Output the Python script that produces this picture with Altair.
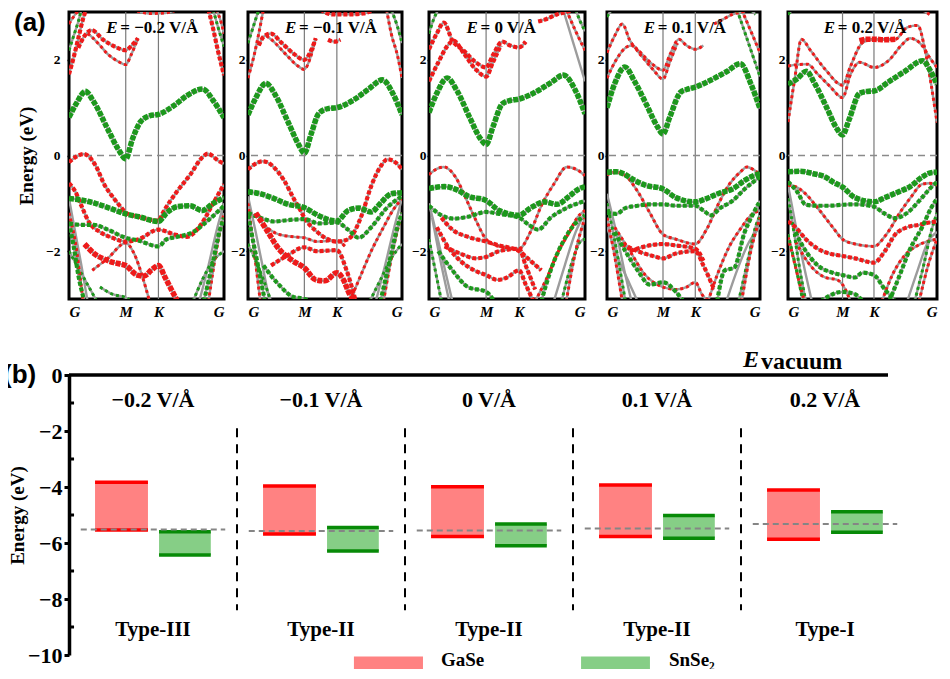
import altair as alt
import pandas as pd

# ---------------- data ----------------
PATH_TICKS = [0.0, 0.366, 0.577, 1.0]          # G, M, K, G along the k-path
PATH_LABELS = ["G", "M", "K", "G"]
FIELDS = ["−0.2", "−0.1", "0", "0.1", "0.2"]

# band: (layer projection, weight, k positions, energies / eV)
BANDS_M02 = [
    ("SnSe2", 3, [0, 0.05, 0.105, 0.16, 0.25, 0.32, 0.366, 0.41, 0.46, 0.52, 0.577, 0.68, 0.76, 0.863, 0.93, 1],
     [0.80, 1.10, 1.34, 1.12, 0.55, 0.12, -0.07, 0.35, 0.70, 0.83, 0.86, 1.05, 1.25, 1.39, 1.15, 0.79]),
    ("GaSe", 2, [0.06, 0.10, 0.147, 0.22, 0.30, 0.366, 0.41, 0.445], [2.25, 2.50, 2.62, 2.42, 2.27, 2.20, 2.32, 2.45]),
    ("GaSe", 1, [0.12, 0.147, 0.20, 0.25, 0.32, 0.366, 0.40, 0.445], [2.55, 2.48, 2.30, 2.12, 1.96, 1.90, 2.10, 2.45]),
    ("GaSe", 2, [0, 0.03, 0.06, 0.09, 0.11], [1.70, 2.05, 2.45, 2.85, 3.05]),
    ("SnSe2", 1, [0, 0.03, 0.06, 0.08], [2.20, 2.50, 2.80, 3.05]),
    ("GaSe", 1, [0, 0.04, 0.08], [2.75, 2.95, 3.10]),
    ("GaSe", 1, [0.44, 0.52, 0.62, 0.70], [3.02, 2.97, 2.98, 3.05]),
    ("GaSe", 2, [0.90, 0.93, 0.96, 1], [3.05, 2.65, 2.20, 1.68]),
    ("SnSe2", 1, [0.93, 0.96, 1], [3.05, 2.70, 2.28]),
    ("GaSe", 1, [0.95, 0.98, 1], [3.05, 2.80, 2.55]),
    ("GaSe", 2, [0, 0.05, 0.095, 0.17, 0.23, 0.29, 0.34, 0.366, 0.45, 0.577, 0.61, 0.695, 0.78, 0.863, 0.895, 0.968, 1],
     [-0.14, -0.02, 0.03, -0.20, -0.62, -0.90, -1.10, -1.20, -1.28, -1.36, -1.17, -0.76, -0.41, -0.03, 0.04, -0.12, -0.17]),
    ("GaSe", 2, [0, 0.04, 0.08, 0.13, 0.20, 0.28, 0.366, 0.45, 0.577, 0.68, 0.76, 0.85, 0.93, 1],
     [-0.58, -0.75, -1.05, -1.40, -1.60, -1.72, -1.80, -1.75, -1.55, -1.65, -1.70, -1.45, -1.00, -0.60]),
    ("GaSe", 3, [0.10, 0.17, 0.23, 0.29, 0.366, 0.44, 0.485, 0.53, 0.577, 0.62, 0.66, 0.70],
     [-1.85, -2.07, -2.17, -2.24, -2.30, -2.50, -2.52, -2.40, -2.30, -2.55, -2.80, -3.05]),
    ("GaSe", 1, [0.15, 0.25, 0.366, 0.42, 0.48, 0.52], [-2.40, -2.15, -1.83, -2.05, -2.60, -3.05]),
    ("SnSe2", 3, [0, 0.08, 0.17, 0.26, 0.366, 0.45, 0.577, 0.63, 0.70, 0.78, 0.86, 0.93, 1],
     [-0.90, -0.93, -1.00, -1.10, -1.22, -1.28, -1.38, -1.20, -1.07, -1.05, -1.15, -1.00, -0.88]),
    ("SnSe2", 2, [0, 0.08, 0.16, 0.25, 0.366, 0.45, 0.577, 0.63, 0.70, 0.80, 0.90, 1],
     [-1.42, -1.45, -1.45, -1.55, -1.72, -1.78, -1.90, -1.75, -1.70, -1.60, -1.35, -1.05]),
    ("SnSe2", 2, [0, 0.03, 0.06, 0.10], [-1.40, -1.90, -2.50, -3.05]),
    ("mix", 0, [0, 0.04, 0.08, 0.12], [-0.90, -1.60, -2.30, -3.05]),
    ("SnSe2", 1, [0, 0.06, 0.12, 0.18], [-2.00, -2.35, -2.70, -3.05]),
    ("GaSe", 1, [0, 0.05, 0.09], [-1.20, -2.00, -3.05]),
    ("SnSe2", 1, [0.20, 0.28, 0.366, 0.40], [-2.75, -2.90, -2.97, -3.05]),
    ("SnSe2", 2, [0.87, 0.93, 0.97, 1], [-3.05, -2.20, -1.60, -1.30]),
    ("mix", 0, [0.84, 0.90, 0.95, 1], [-3.05, -2.30, -1.60, -1.00]),
    ("SnSe2", 1, [0.80, 0.86, 0.93, 1], [-3.05, -2.60, -2.20, -2.00]),
    ("GaSe", 1, [0.90, 0.95, 1], [-3.05, -2.00, -1.20]),
]

BANDS_M01 = [
    ("SnSe2", 3, [0, 0.05, 0.116, 0.18, 0.26, 0.33, 0.366, 0.41, 0.46, 0.52, 0.577, 0.68, 0.78, 0.874, 0.94, 1],
     [0.85, 1.20, 1.51, 1.25, 0.70, 0.22, 0.05, 0.45, 0.88, 0.98, 1.00, 1.15, 1.38, 1.58, 1.30, 0.85]),
    ("GaSe", 2, [0.07, 0.10, 0.147, 0.22, 0.30, 0.366, 0.41, 0.44], [2.30, 2.48, 2.55, 2.35, 2.12, 2.00, 2.20, 2.45]),
    ("GaSe", 1, [0.12, 0.16, 0.25, 0.32, 0.366, 0.40, 0.44], [2.50, 2.40, 2.10, 1.88, 1.80, 2.00, 2.45]),
    ("GaSe", 1, [0, 0.04, 0.07, 0.10], [1.62, 2.10, 2.55, 3.05]),
    ("SnSe2", 1, [0, 0.04, 0.07], [2.35, 2.75, 3.05]),
    ("GaSe", 2, [0.47, 0.55, 0.65, 0.75, 0.82], [3.05, 2.95, 2.95, 2.97, 3.05]),
    ("GaSe", 2, [0.52, 0.56, 0.60], [2.42, 2.38, 2.42]),
    ("GaSe", 1, [0.90, 0.93, 0.97, 1], [3.05, 2.55, 2.10, 1.62]),
    ("SnSe2", 1, [0.93, 0.97, 1], [3.05, 2.70, 2.35]),
    ("GaSe", 2, [0, 0.05, 0.095, 0.23, 0.30, 0.336, 0.366, 0.45, 0.577, 0.65, 0.737, 0.80, 0.863, 0.905, 0.96, 1],
     [-0.29, -0.17, -0.12, -0.50, -0.92, -1.12, -1.30, -1.60, -1.80, -1.75, -1.26, -0.64, -0.22, -0.08, -0.15, -0.29]),
    ("SnSe2", 3, [0, 0.08, 0.17, 0.26, 0.366, 0.46, 0.577, 0.65, 0.72, 0.80, 0.86, 0.93, 1],
     [-0.76, -0.80, -0.90, -1.02, -1.09, -1.26, -1.37, -1.15, -1.10, -1.18, -1.00, -0.80, -0.78]),
    ("SnSe2", 2, [0, 0.08, 0.17, 0.26, 0.366, 0.46, 0.577, 0.65, 0.72, 0.80, 0.90, 1],
     [-1.20, -1.30, -1.38, -1.35, -1.33, -1.42, -1.40, -1.55, -1.72, -1.50, -1.10, -0.85]),
    ("GaSe", 1, [0.10, 0.20, 0.30, 0.366, 0.45, 0.577, 0.63], [-1.45, -1.65, -1.70, -1.72, -1.80, -1.78, -1.90]),
    ("GaSe", 2, [0.15, 0.25, 0.366, 0.45, 0.577, 0.64, 0.70], [-2.30, -2.10, -1.92, -2.00, -1.98, -2.40, -3.05]),
    ("GaSe", 3, [0.05, 0.12, 0.20, 0.29, 0.366, 0.44, 0.50, 0.577, 0.62, 0.66, 0.70],
     [-1.20, -1.55, -1.95, -2.20, -2.35, -2.60, -2.62, -2.45, -2.60, -2.90, -3.05]),
    ("GaSe", 1, [0.66, 0.72, 0.80, 0.88, 0.94, 1], [-3.05, -2.60, -2.00, -1.50, -1.15, -0.90]),
    ("SnSe2", 2, [0.10, 0.20, 0.29, 0.366, 0.40], [-2.30, -2.70, -2.95, -3.00, -3.05]),
    ("SnSe2", 2, [0, 0.04, 0.08, 0.11], [-1.25, -1.90, -2.55, -3.05]),
    ("mix", 0, [0, 0.05, 0.10, 0.14], [-0.85, -1.60, -2.40, -3.05]),
    ("SnSe2", 1, [0, 0.05, 0.10, 0.15], [-1.85, -2.20, -2.60, -3.05]),
    ("GaSe", 1, [0, 0.04, 0.08], [-1.00, -2.00, -3.05]),
    ("SnSe2", 2, [0.86, 0.92, 0.97, 1], [-3.05, -2.20, -1.50, -1.20]),
    ("mix", 0, [0.83, 0.89, 0.95, 1], [-3.05, -2.30, -1.50, -0.90]),
    ("SnSe2", 1, [0.79, 0.86, 0.93, 1], [-3.05, -2.60, -2.15, -1.85]),
    ("GaSe", 1, [0.88, 0.94, 1], [-3.05, -2.00, -1.20]),
]

BANDS_0 = [
    ("SnSe2", 3, [0, 0.05, 0.116, 0.18, 0.26, 0.33, 0.366, 0.41, 0.47, 0.52, 0.577, 0.68, 0.78, 0.863, 0.94, 1],
     [0.90, 1.30, 1.62, 1.35, 0.80, 0.35, 0.23, 0.60, 1.08, 1.15, 1.18, 1.32, 1.52, 1.68, 1.35, 0.87]),
    ("GaSe", 2, [0, 0.05, 0.095, 0.15, 0.22, 0.30, 0.366, 0.41, 0.47, 0.52, 0.577, 0.62],
     [2.22, 2.55, 2.78, 2.40, 2.20, 1.95, 1.84, 2.10, 2.38, 2.30, 2.26, 2.38]),
    ("GaSe", 2, [0, 0.06, 0.12, 0.158, 0.22, 0.30, 0.366, 0.41, 0.46], [1.55, 1.95, 2.30, 2.40, 2.15, 1.80, 1.65, 1.95, 2.30]),
    ("SnSe2", 1, [0, 0.03, 0.06], [2.55, 2.85, 3.05]),
    ("GaSe", 2, [0.70, 0.75, 0.82, 0.88, 0.93], [2.80, 2.85, 2.95, 3.00, 3.05]),
    ("GaSe", 1, [0.88, 0.94, 1], [3.05, 2.60, 2.20]),
    ("mix", 0, [0.86, 0.93, 1], [3.05, 2.30, 1.55]),
    ("SnSe2", 1, [0.94, 0.97, 1], [3.05, 2.80, 2.60]),
    ("GaSe", 1, [0, 0.05, 0.095, 0.17, 0.23, 0.30, 0.366, 0.45, 0.577, 0.65, 0.72, 0.80, 0.884, 0.95, 1],
     [-0.40, -0.28, -0.24, -0.45, -0.85, -1.35, -1.75, -1.90, -1.95, -1.60, -1.05, -0.60, -0.24, -0.30, -0.42]),
    ("SnSe2", 3, [0, 0.10, 0.18, 0.25, 0.366, 0.45, 0.577, 0.65, 0.74, 0.82, 0.90, 0.96, 1],
     [-0.69, -0.65, -0.72, -0.85, -0.94, -1.15, -1.25, -1.10, -0.97, -1.02, -0.85, -0.70, -0.65]),
    ("SnSe2", 2, [0, 0.08, 0.16, 0.25, 0.366, 0.45, 0.577, 0.64, 0.70, 0.78, 0.88, 1],
     [-1.05, -1.25, -1.32, -1.28, -1.18, -1.22, -1.30, -1.45, -1.55, -1.30, -1.10, -0.95]),
    ("GaSe", 2, [0.08, 0.15, 0.25, 0.366, 0.45, 0.577, 0.65, 0.72], [-1.30, -1.55, -1.70, -1.80, -1.88, -2.00, -2.20, -2.40]),
    ("GaSe", 2, [0.10, 0.20, 0.30, 0.366, 0.45, 0.577, 0.62, 0.68], [-1.90, -2.05, -2.15, -2.12, -2.00, -1.95, -2.30, -2.80]),
    ("GaSe", 2, [0.05, 0.12, 0.20, 0.29, 0.366, 0.44, 0.50, 0.577, 0.62, 0.67],
     [-1.50, -1.90, -2.20, -2.40, -2.50, -2.60, -2.55, -2.40, -2.70, -3.05]),
    ("GaSe", 1, [0.68, 0.75, 0.83, 0.90, 0.95, 1], [-3.05, -2.60, -2.00, -1.60, -1.30, -1.15]),
    ("SnSe2", 2, [0.06, 0.15, 0.25, 0.366, 0.42], [-2.00, -2.40, -2.75, -2.85, -3.05]),
    ("SnSe2", 2, [0.72, 0.78, 0.86, 0.93, 1], [-3.05, -2.40, -1.80, -1.45, -1.25]),
    ("mix", 0, [0, 0.06, 0.11, 0.15], [-1.00, -1.80, -2.50, -3.05]),
    ("SnSe2", 1, [0, 0.04, 0.08], [-1.75, -2.40, -3.05]),
    ("mix", 0, [0.02, 0.08, 0.13], [-1.30, -2.30, -3.05]),
    ("mix", 0, [0.80, 0.87, 0.94, 1], [-3.05, -2.30, -1.60, -1.20]),
    ("SnSe2", 1, [0.85, 0.92, 0.97, 1], [-3.05, -2.20, -1.80, -1.75]),
    ("GaSe", 1, [0.88, 0.94, 1], [-3.05, -2.00, -1.30]),
]

BANDS_P01 = [
    ("SnSe2", 3, [0, 0.05, 0.117, 0.18, 0.26, 0.33, 0.366, 0.41, 0.48, 0.52, 0.577, 0.68, 0.78, 0.872, 0.94, 1],
     [1.00, 1.50, 1.85, 1.55, 1.05, 0.60, 0.45, 0.80, 1.32, 1.38, 1.43, 1.58, 1.75, 1.92, 1.50, 0.98]),
    ("GaSe", 1, [0, 0.05, 0.10, 0.15, 0.22, 0.30, 0.366, 0.41, 0.47, 0.52, 0.577, 0.63],
     [2.15, 2.50, 2.75, 2.40, 2.15, 1.90, 1.78, 2.10, 2.43, 2.30, 2.22, 2.30]),
    ("GaSe", 1, [0, 0.06, 0.12, 0.16, 0.22, 0.30, 0.366, 0.41, 0.46], [1.62, 2.00, 2.25, 2.30, 2.10, 1.80, 1.60, 1.95, 2.35]),
    ("SnSe2", 1, [0, 0.03], [2.90, 3.05]),
    ("GaSe", 1, [0.70, 0.76, 0.82, 0.88, 0.93], [2.75, 2.85, 2.95, 3.00, 3.05]),
    ("GaSe", 1, [0.88, 0.94, 1], [3.05, 2.60, 2.15]),
    ("SnSe2", 1, [0.85, 0.93, 1], [3.05, 2.30, 1.65]),
    ("SnSe2", 1, [0.94, 0.97], [3.05, 2.95]),
    ("SnSe2", 3, [0, 0.06, 0.106, 0.17, 0.25, 0.366, 0.45, 0.577, 0.65, 0.74, 0.82, 0.90, 0.96, 1],
     [-0.35, -0.34, -0.38, -0.50, -0.62, -0.70, -0.88, -0.97, -0.90, -0.78, -0.70, -0.52, -0.42, -0.38]),
    ("SnSe2", 2, [0, 0.06, 0.12, 0.20, 0.28, 0.366, 0.45, 0.577, 0.63, 0.68, 0.74, 0.82, 0.90, 1],
     [-1.20, -1.22, -1.10, -1.05, -1.02, -1.02, -1.05, -1.05, -1.15, -1.25, -1.10, -0.95, -0.70, -0.45]),
    ("GaSe", 1, [0, 0.06, 0.12, 0.20, 0.28, 0.366, 0.45, 0.577, 0.65, 0.73, 0.80, 0.87, 0.915, 0.96, 1],
     [-0.40, -0.35, -0.42, -0.75, -1.20, -1.65, -1.75, -1.85, -1.55, -1.00, -0.60, -0.35, -0.24, -0.30, -0.40]),
    ("GaSe", 2, [0.15, 0.25, 0.366, 0.45, 0.577, 0.63], [-2.00, -1.90, -1.85, -1.88, -1.95, -2.20]),
    ("GaSe", 2, [0.10, 0.20, 0.30, 0.366, 0.45, 0.577, 0.63, 0.70], [-1.85, -2.00, -2.10, -2.15, -2.05, -2.00, -2.30, -2.80]),
    ("GaSe", 1, [0.05, 0.15, 0.25, 0.366, 0.45, 0.52, 0.577, 0.62, 0.66], [-1.50, -2.00, -2.50, -2.75, -2.80, -2.75, -2.65, -2.90, -3.05]),
    ("SnSe2", 2, [0.05, 0.12, 0.20, 0.28, 0.366, 0.45, 0.50], [-1.60, -2.00, -2.40, -2.70, -2.65, -2.85, -3.05]),
    ("GaSe", 1, [0.66, 0.72, 0.80, 0.88, 0.94, 1], [-3.05, -2.50, -1.90, -1.50, -1.25, -1.15]),
    ("SnSe2", 2, [0.72, 0.77, 0.83, 0.90, 0.95, 1], [-3.05, -2.40, -2.35, -1.60, -1.25, -0.95]),
    ("mix", 0, [0, 0.06, 0.12, 0.16], [-0.80, -1.60, -2.50, -3.05]),
    ("SnSe2", 1, [0, 0.04, 0.08, 0.12], [-1.00, -1.60, -2.30, -3.05]),
    ("GaSe", 1, [0, 0.05, 0.10], [-1.30, -2.10, -3.05]),
    ("mix", 0, [0, 0.08, 0.15, 0.20], [-1.50, -2.20, -2.70, -3.05]),
    ("mix", 0, [0.78, 0.85, 0.93, 1], [-3.05, -2.40, -1.80, -1.50]),
    ("SnSe2", 1, [0.86, 0.92, 0.97, 1], [-3.05, -2.20, -1.50, -1.25]),
    ("GaSe", 1, [0.88, 0.94, 1], [-3.05, -2.00, -1.30]),
]

BANDS_P02 = [
    ("SnSe2", 3, [0, 0.06, 0.123, 0.18, 0.26, 0.33, 0.366, 0.41, 0.48, 0.53, 0.577, 0.68, 0.78, 0.905, 0.95, 1],
     [1.49, 1.60, 1.76, 1.50, 1.00, 0.55, 0.43, 0.75, 1.30, 1.34, 1.35, 1.55, 1.75, 1.98, 1.80, 1.49]),
    ("GaSe", 1, [0, 0.045, 0.09, 0.15, 0.25, 0.366, 0.42, 0.50, 0.577, 0.72, 0.80, 0.87, 0.92, 0.96, 1],
     [0.70, 1.60, 2.43, 2.20, 1.80, 1.47, 1.87, 2.36, 2.43, 2.43, 2.68, 2.72, 2.20, 1.50, 0.69]),
    ("GaSe", 1, [0, 0.06, 0.13, 0.20, 0.28, 0.366, 0.42, 0.48, 0.577, 0.68, 0.76, 0.82, 0.90, 0.95, 1],
     [1.87, 1.90, 1.91, 1.70, 1.45, 1.21, 1.70, 1.95, 1.84, 2.00, 2.30, 2.45, 2.30, 2.05, 1.84]),
    ("GaSe", 3, [0.48, 0.53, 0.577, 0.65, 0.72], [2.40, 2.43, 2.43, 2.42, 2.43]),
    ("SnSe2", 1, [0, 0.03], [2.95, 3.05]),
    ("GaSe", 1, [0.90, 0.95], [3.05, 2.95]),
    ("SnSe2", 3, [0, 0.08, 0.17, 0.25, 0.30, 0.366, 0.45, 0.577, 0.65, 0.75, 0.82, 0.90, 0.96, 1],
     [-0.34, -0.33, -0.38, -0.45, -0.55, -0.66, -0.88, -0.97, -0.88, -0.75, -0.65, -0.45, -0.36, -0.35]),
    ("SnSe2", 2, [0, 0.06, 0.12, 0.20, 0.28, 0.366, 0.45, 0.577, 0.64, 0.72, 0.80, 0.88, 0.95, 1],
     [-0.55, -0.75, -1.03, -1.05, -1.05, -1.03, -1.02, -1.07, -1.20, -1.31, -1.20, -0.95, -0.70, -0.55]),
    ("GaSe", 1, [0, 0.05, 0.10, 0.20, 0.30, 0.366, 0.45, 0.577, 0.66, 0.75, 0.83, 0.90, 0.95, 1],
     [-0.62, -0.65, -0.75, -1.10, -1.50, -1.75, -1.85, -1.90, -1.65, -1.20, -0.85, -0.60, -0.58, -0.62]),
    ("GaSe", 2, [0, 0.05, 0.12, 0.20, 0.28, 0.366, 0.45, 0.577, 0.65, 0.72, 0.80, 0.88, 0.95, 1],
     [-1.38, -1.50, -1.75, -1.95, -2.05, -2.10, -2.15, -2.24, -2.00, -1.65, -1.50, -1.45, -1.40, -1.38]),
    ("SnSe2", 2, [0.05, 0.10, 0.20, 0.30, 0.366, 0.45, 0.50, 0.577, 0.65, 0.72],
     [-1.60, -1.90, -2.30, -2.45, -2.50, -2.55, -2.45, -2.50, -2.80, -3.05]),
    ("SnSe2", 2, [0.22, 0.30, 0.366, 0.45, 0.50], [-3.05, -2.90, -2.85, -2.90, -3.05]),
    ("GaSe", 1, [0.05, 0.15, 0.25, 0.33, 0.366, 0.42], [-1.80, -2.30, -2.55, -2.60, -2.70, -3.05]),
    ("GaSe", 1, [0.63, 0.70, 0.78, 0.86, 0.93, 1], [-3.05, -2.50, -2.10, -1.90, -1.80, -1.75]),
    ("SnSe2", 2, [0.68, 0.75, 0.82, 0.90, 0.96, 1], [-3.05, -2.50, -1.95, -1.50, -1.10, -0.90]),
    ("mix", 0, [0, 0.06, 0.12, 0.16], [-0.62, -1.60, -2.50, -3.05]),
    ("SnSe2", 1, [0, 0.04, 0.08, 0.12], [-0.90, -1.60, -2.40, -3.05]),
    ("GaSe", 1, [0, 0.04, 0.08, 0.11], [-1.70, -2.20, -2.70, -3.05]),
    ("SnSe2", 1, [0, 0.05, 0.10], [-1.65, -2.30, -3.05]),
    ("mix", 0, [0.80, 0.87, 0.94, 1], [-3.05, -2.40, -1.80, -1.60]),
    ("SnSe2", 1, [0.85, 0.91, 0.96, 1], [-3.05, -2.30, -1.60, -1.20]),
    ("GaSe", 1, [0.88, 0.94, 1], [-3.05, -2.30, -1.75]),
]

ALL_BANDS = [BANDS_M02, BANDS_M01, BANDS_0, BANDS_P01, BANDS_P02]

# (b) band alignment, eV
ALIGN_FIELDS = ["−0.2 V/Å", "−0.1 V/Å", "0 V/Å", "0.1 V/Å", "0.2 V/Å"]
ALIGN_TYPES = ["Type-III", "Type-II", "Type-II", "Type-II", "Type-I"]
GASE_CBM = [-3.83, -3.96, -3.99, -3.93, -4.11]
GASE_VBM = [-5.54, -5.68, -5.77, -5.77, -5.87]
SNSE2_CBM = [-5.60, -5.45, -5.32, -5.02, -4.88]
SNSE2_VBM = [-6.43, -6.29, -6.10, -5.83, -5.62]
FERMI = [-5.52, -5.57, -5.55, -5.48, -5.32]

# ---------------- styling ----------------
RED = "#ee1a1a"
GREEN = "#1c981c"
SERIF = "Liberation Serif"
SANS = "Liberation Sans"
WIDTHS = [155, 154, 156, 153, 149]
MIN_EXT = [None, 19.3, 22, 17, 23]
PANEL_H = 287
SW = {1: 3.0, 2: 4.2, 3: 5.6}
DASH = {1: [3, 3], 2: [4, 2], 3: [5, 1.2]}


def band_frame(bands):
    rows = []
    for b, (layer, w, xs, es) in enumerate(bands):
        for j, (x, e) in enumerate(zip(xs, es)):
            rows.append({"band": b, "idx": j, "k": x, "E": e, "layer": layer, "w": w})
    return pd.DataFrame(rows)


label_expr = ("datum.value < 0.2 ? '%s' : datum.value < 0.45 ? '%s' : datum.value < 0.8 ? '%s' : '%s'"
              % tuple(PATH_LABELS))


def make_panel(i):
    df = band_frame(ALL_BANDS[i])
    yax = dict(values=[-2, 0, 2], grid=False, domain=False, tickSize=2, tickWidth=1.5, tickColor="black",
               labelFont=SERIF, labelFontWeight="bold", labelFontSize=13.5, labelColor="black",
               labelPadding=7 if i == 0 else 1)
    if i == 0:
        yax.update(title="Energy (eV)", titleFont=SERIF, titleFontSize=19, titleFontWeight="bold",
                   titleColor="black", titlePadding=9)
    else:
        yax.update(title=None, minExtent=MIN_EXT[i])
    X = alt.X("k:Q", scale=alt.Scale(domain=[0, 1], nice=False, zero=False),
              axis=alt.Axis(values=PATH_TICKS, labelExpr=label_expr, grid=False, ticks=False, domain=False,
                            labelFlush=True, labelFont=SERIF, labelFontStyle="italic", labelFontWeight="bold",
                            labelFontSize=15, labelColor="black", labelPadding=5, title=None))
    Y = alt.Y("E:Q", scale=alt.Scale(domain=[-3, 3], nice=False), axis=alt.Axis(**yax))

    vlines = alt.Chart(pd.DataFrame({"k": PATH_TICKS[1:3]})).mark_rule(
        color="#7a7a7a", strokeWidth=1.2).encode(x=X)
    zero = alt.Chart(pd.DataFrame({"E": [0]})).mark_rule(
        color="#8a8a8a", strokeWidth=1.5, strokeDash=[7, 5]).encode(y=Y)
    base = alt.Chart(df)
    grey = base.mark_line(interpolate="monotone", clip=True, color="#9c9c9c", strokeWidth=2.4).encode(
        x=X, y=Y, detail="band:N", order="idx:Q")
    layers = [vlines, zero, grey]
    for w in (1, 2, 3):
        layers.append(
            base.transform_filter(f"datum.w == {w} && datum.layer != 'mix'").mark_line(
                interpolate="monotone", clip=True, strokeWidth=SW[w], strokeDash=DASH[w]).encode(
                x=X, y=Y, detail="band:N", order="idx:Q",
                color=alt.Color("layer:N", scale=alt.Scale(domain=["GaSe", "SnSe2"], range=[RED, GREEN]),
                                legend=None)))
    one = pd.DataFrame({"t": ["E"]})
    layers.append(alt.Chart(one).mark_text(font=SERIF, fontSize=17, fontWeight="bold", fontStyle="italic",
                                           align="left", baseline="alphabetic", color="black").encode(
        x=alt.datum(0.24), y=alt.datum(2.57), text="t:N"))
    layers.append(alt.Chart(pd.DataFrame({"t": ["= %s V/Å" % FIELDS[i]]})).mark_text(
        font=SERIF, fontSize=17, fontWeight="bold", align="left", baseline="alphabetic", dx=14,
        color="black").encode(x=alt.datum(0.24), y=alt.datum(2.57), text="t:N"))
    if i == 0:
        layers.append(alt.Chart(pd.DataFrame({"t": ["(a)"]})).mark_text(
            font=SANS, fontSize=26, fontWeight="bold", align="left", baseline="top", dx=-55, dy=-2,
            color="black").encode(x=alt.datum(0), y=alt.datum(3), text="t:N"))
    return alt.layer(*layers).properties(
        width=WIDTHS[i], height=PANEL_H, view=alt.ViewBackground(stroke="black", strokeWidth=3))


panels = [make_panel(i) for i in range(5)]
top = alt.hconcat(*panels, spacing=0).resolve_scale(x="independent", y="independent")

# ---------------- (b) ----------------
XMAX = 827 / 168.0
c = [i + 0.5 for i in range(5)]
dfb = pd.DataFrame({
    "c": c, "field": ALIGN_FIELDS, "type": ALIGN_TYPES,
    "g_top": GASE_CBM, "g_bot": GASE_VBM, "s_top": SNSE2_CBM, "s_bot": SNSE2_VBM, "ef": FERMI,
})
dfb["g1"] = dfb["c"] - 0.345
dfb["g2"] = dfb["c"] - 0.03
dfb["s1"] = dfb["c"] + 0.036
dfb["s2"] = dfb["c"] + 0.344
dfb["f1"] = dfb["c"] - 0.43
dfb["f2"] = dfb["c"] + 0.43
dfb["div"] = dfb["c"] + 0.5

XS = alt.Scale(domain=[0, XMAX], nice=False, zero=False)
YS = alt.Scale(domain=[-10, 0], nice=False)
YAX = alt.Axis(values=[0, -2, -4, -6, -8, -10], grid=False, domainColor="black", domainWidth=3.5,
               tickColor="black", tickWidth=3, tickSize=5, labelFont=SERIF, labelFontSize=22,
               labelFontWeight="bold", labelColor="black", labelPadding=2, title="Energy (eV)",
               titleFont=SERIF, titleFontSize=19, titleFontWeight="bold", titleColor="black", titlePadding=0)


def bx(f):
    return alt.X(f, scale=XS, axis=None)


def by(f):
    return alt.Y(f, scale=YS, axis=YAX)


bb = alt.Chart(dfb)
rect_g = bb.mark_rect(color="#ff8282").encode(x=bx("g1:Q"), x2="g2:Q", y=by("g_top:Q"), y2="g_bot:Q")
rect_s = bb.mark_rect(color="#86ce86").encode(x=bx("s1:Q"), x2="s2:Q", y=by("s_top:Q"), y2="s_bot:Q")
edges = []
for f in ("g_top", "g_bot"):
    edges.append(bb.mark_rule(color="#ff0000", strokeWidth=3.5).encode(x=bx("g1:Q"), x2="g2:Q", y=by(f + ":Q")))
for f in ("s_top", "s_bot"):
    edges.append(bb.mark_rule(color="#078a07", strokeWidth=3.5).encode(x=bx("s1:Q"), x2="s2:Q", y=by(f + ":Q")))
fermi = bb.mark_rule(color="#858585", strokeWidth=2, strokeDash=[6, 4]).encode(
    x=bx("f1:Q"), x2="f2:Q", y=by("ef:Q"))
divs = alt.Chart(dfb.iloc[:4]).mark_rule(color="black", strokeWidth=2, strokeDash=[9, 7]).encode(
    x=bx("div:Q"), y=alt.datum(-1.9), y2=alt.datum(-8.4))
topline = alt.Chart(pd.DataFrame({"a": [0.0], "b": [4.875], "y": [0.0]})).mark_rule(
    color="black", strokeWidth=3.5).encode(x=bx("a:Q"), x2="b:Q", y=by("y:Q"))
minor = alt.Chart(pd.DataFrame({"a": [0.0] * 5, "b": [0.03] * 5, "y": [-1, -3, -5, -7, -9]})).mark_rule(
    color="black", strokeWidth=3).encode(x=bx("a:Q"), x2="b:Q", y=by("y:Q"))
flabels = bb.mark_text(font=SERIF, fontSize=22, fontWeight="bold", baseline="alphabetic", color="black").encode(
    x=bx("c:Q"), y=alt.datum(-1.14), text="field:N")
tlabels = bb.mark_text(font=SERIF, fontSize=21, fontWeight="bold", baseline="alphabetic", color="black").encode(
    x=bx("c:Q"), y=alt.datum(-9.32), text="type:N")
leg = pd.DataFrame({"name": ["GaSe", "SnSe₂"], "x1": [1.696, 3.048], "x2": [2.107, 3.458],
                    "tx": [2.214, 3.571], "y1": [-10.05, -10.05], "y2": [-10.55, -10.55]})
leg_rect = alt.Chart(leg).mark_rect().encode(
    x=bx("x1:Q"), x2="x2:Q", y=by("y1:Q"), y2="y2:Q",
    color=alt.Color("name:N", scale=alt.Scale(domain=["GaSe", "SnSe₂"], range=["#ff8282", "#86ce86"]), legend=None))
leg_text = alt.Chart(leg).mark_text(font=SERIF, fontSize=19, fontWeight="bold", align="left",
                                    baseline="alphabetic", color="black").encode(
    x=bx("tx:Q"), y=alt.datum(-10.4), text="name:N")
ev_e = alt.Chart(pd.DataFrame({"t": ["E"]})).mark_text(
    font=SERIF, fontSize=24, fontWeight="bold", fontStyle="italic", align="left", baseline="alphabetic",
    dy=-8, color="black").encode(x=alt.datum(4.012), y=alt.datum(0), text="t:N")
ev_sub = alt.Chart(pd.DataFrame({"t": ["vacuum"]})).mark_text(
    font=SERIF, fontSize=24, fontWeight="bold", align="left", baseline="alphabetic",
    dy=-6, color="black").encode(x=alt.datum(4.119), y=alt.datum(0), text="t:N")
# tiny white point that sets how far part (b) reaches to the left (layout anchor only)
spacer = alt.Chart(pd.DataFrame({"s": [1]})).mark_point(
    shape="square", size=4, filled=True, color="white", opacity=1).encode(
    x=alt.datum(-77 / 168.0), y=alt.datum(0))
blabel = alt.Chart(pd.DataFrame({"t": ["(b)"]})).mark_text(
    font=SANS, fontSize=26, fontWeight="bold", align="left", baseline="middle", dx=-66,
    color="black").encode(x=alt.datum(0), y=alt.datum(0), text="t:N")

bottom = alt.layer(rect_g, rect_s, *edges, fermi, divs, topline, minor, flabels, tlabels,
                   leg_rect, leg_text, ev_e, ev_sub, spacer, blabel).properties(width=827, height=280).resolve_scale(
    color="independent")

chart = alt.vconcat(top, bottom, spacing=27,
                    padding={"left": -17, "top": 0, "right": 0, "bottom": -2}).resolve_scale(
    x="independent", y="independent", color="independent").configure(background="white").configure_view(
    strokeWidth=0)

chart.save("out.html", embed_options={"renderer": "svg", "actions": False})
